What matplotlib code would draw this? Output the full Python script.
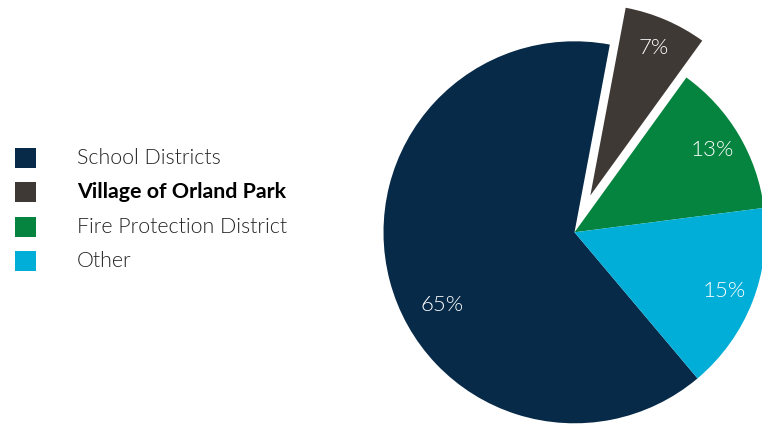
import matplotlib
matplotlib.use("Agg")
import matplotlib.pyplot as plt
from matplotlib.patches import Rectangle
import numpy as np

categories = ["School Districts", "Village of Orland Park", "Fire Protection District", "Other"]
shares = [64.1, 7.0, 13.0, 15.9]          # slice sizes as drawn
pct_labels = ["65%", "7%", "13%", "15%"]  # labels as printed
colors = ["#062a48", "#3e3935", "#05843f", "#00aed8"]

W, H = 762, 425
R = 191
explode = [0, 0.21 * R, 0, 0]

fig = plt.figure(figsize=(W / 100, H / 100), dpi=100)
ax = fig.add_axes([0, 0, 1, 1])

cx, cy = 574.5, H - 232.3
wedges, texts = ax.pie(
    shares, colors=colors, explode=explode, startangle=310.1, counterclock=False,
    radius=R, center=(cx, cy), wedgeprops=dict(linewidth=0),
)

# percentage labels inside the slices
label_font = dict(color="white", fontsize=16, family=["Lato", "DejaVu Sans"], fontweight=300,
                  ha="center", va="center")
for i, (w, lab) in enumerate(zip(wedges, pct_labels)):
    wx, wy = w.center
    if i == 0:
        ang, dist = np.deg2rad(209), 0.79
    else:
        ang, dist = np.deg2rad((w.theta1 + w.theta2) / 2), 0.84
    ax.text(wx + dist * R * np.cos(ang), wy + dist * R * np.sin(ang), lab, **label_font)

ax.set_xlim(0, W)
ax.set_ylim(0, H)
ax.set_aspect("equal")
ax.axis("off")

# legend
y0, step = 158, 34.3
for i, (lab, col) in enumerate(zip(categories, colors)):
    yc = H - (y0 + i * step)
    ax.add_patch(Rectangle((15, yc - 10), 21, 20, color=col, linewidth=0))
    bold = (i == 1)
    ax.text(77, yc, lab, fontsize=15.4, va="center", ha="left",
            family=["Lato", "DejaVu Sans"],
            fontweight="bold" if bold else 300,
            color="black" if bold else "#222222")

fig.savefig("out.png", dpi=100)
